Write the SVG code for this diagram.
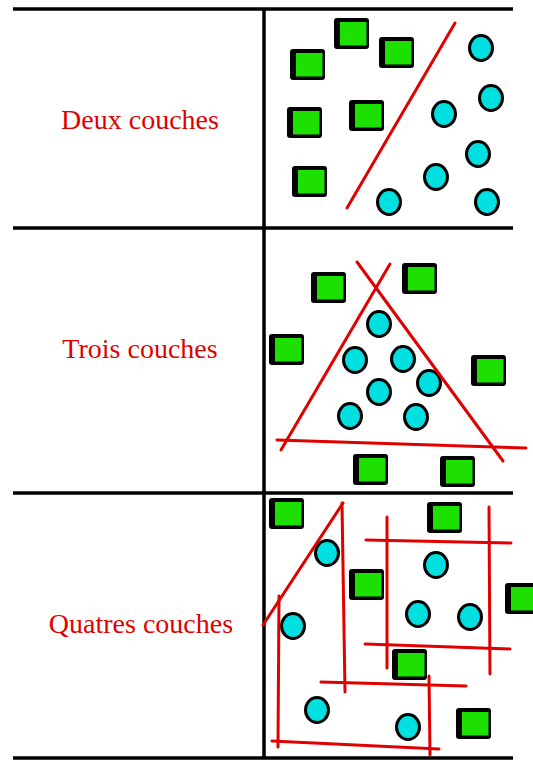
<svg xmlns="http://www.w3.org/2000/svg" xmlns:xlink="http://www.w3.org/1999/xlink" width="533" height="760" viewBox="0 0 533 760">
<style>
.grid{stroke:#000;stroke-width:3.5;fill:none}
.sep{stroke:#e00000;stroke-width:3;stroke-linecap:round;fill:none}
.c{fill:#00e0e0;stroke:#000;stroke-width:3}
.lbl{font-family:"Liberation Serif","Times New Roman",serif;font-size:28px;fill:#e00000;text-anchor:middle}
</style>
<defs>
<g id="sq"><rect x="0" y="0" width="35" height="31" rx="3" fill="#000"/><rect x="6" y="4" width="26.5" height="23.5" fill="#1ee000"/></g>
</defs>
<rect width="533" height="760" fill="#fff"/>
<g id="grid" class="grid">
<line x1="13" y1="9" x2="513" y2="9"/>
<line x1="13" y1="228" x2="513" y2="228"/>
<line x1="13" y1="493" x2="513" y2="493"/>
<line x1="13" y1="758" x2="513" y2="758"/>
<line x1="264" y1="9" x2="264" y2="758"/>
</g>
<g id="labels">
<text class="lbl" x="140" y="129">Deux couches</text>
<text class="lbl" x="140" y="358">Trois couches</text>
<text class="lbl" x="141" y="633">Quatres couches</text>
</g>
<g id="panel1">
<use xlink:href="#sq" x="290" y="49"/>
<use xlink:href="#sq" x="334" y="18"/>
<use xlink:href="#sq" x="379" y="37"/>
<use xlink:href="#sq" x="287" y="107"/>
<use xlink:href="#sq" x="349" y="100"/>
<use xlink:href="#sq" x="292" y="166"/>
<ellipse class="c" cx="481" cy="48" rx="11.5" ry="12.5"/>
<ellipse class="c" cx="491" cy="98" rx="11.5" ry="12.5"/>
<ellipse class="c" cx="444" cy="114" rx="11.5" ry="12.5"/>
<ellipse class="c" cx="478" cy="154" rx="11.5" ry="12.5"/>
<ellipse class="c" cx="436" cy="177" rx="11.5" ry="12.5"/>
<ellipse class="c" cx="389" cy="202" rx="11.5" ry="12.5"/>
<ellipse class="c" cx="487" cy="202" rx="11.5" ry="12.5"/>
</g>
<g id="panel2">
<use xlink:href="#sq" x="311" y="272"/>
<use xlink:href="#sq" x="402" y="263"/>
<use xlink:href="#sq" x="269" y="334"/>
<use xlink:href="#sq" x="471" y="355"/>
<use xlink:href="#sq" x="353" y="454"/>
<use xlink:href="#sq" x="440" y="456"/>
<ellipse class="c" cx="379" cy="324" rx="11.5" ry="12.5"/>
<ellipse class="c" cx="355" cy="360" rx="11.5" ry="12.5"/>
<ellipse class="c" cx="403" cy="359" rx="11.5" ry="12.5"/>
<ellipse class="c" cx="429" cy="383" rx="11.5" ry="12.5"/>
<ellipse class="c" cx="379" cy="392" rx="11.5" ry="12.5"/>
<ellipse class="c" cx="350" cy="416" rx="11.5" ry="12.5"/>
<ellipse class="c" cx="416" cy="417" rx="11.5" ry="12.5"/>
</g>
<g id="panel3">
<use xlink:href="#sq" x="269" y="498"/>
<use xlink:href="#sq" x="427" y="502"/>
<use xlink:href="#sq" x="349" y="569"/>
<use xlink:href="#sq" x="505" y="583"/>
<use xlink:href="#sq" x="392" y="649"/>
<use xlink:href="#sq" x="456" y="708"/>
<ellipse class="c" cx="327" cy="553" rx="11.5" ry="12.5"/>
<ellipse class="c" cx="436" cy="565" rx="11.5" ry="12.5"/>
<ellipse class="c" cx="293" cy="626" rx="11.5" ry="12.5"/>
<ellipse class="c" cx="418" cy="614" rx="11.5" ry="12.5"/>
<ellipse class="c" cx="470" cy="617" rx="11.5" ry="12.5"/>
<ellipse class="c" cx="317" cy="710" rx="11.5" ry="12.5"/>
<ellipse class="c" cx="408" cy="727" rx="11.5" ry="12.5"/>
</g>
<g id="connectors" class="sep">
<line x1="455" y1="23" x2="347" y2="208"/>
<line x1="390" y1="264" x2="281" y2="450"/>
<line x1="357" y1="262" x2="503" y2="461"/>
<line x1="277" y1="440" x2="526" y2="448"/>
<line x1="263" y1="625" x2="343" y2="503"/>
<line x1="342" y1="503" x2="345" y2="692"/>
<line x1="279" y1="596" x2="278" y2="747"/>
<line x1="272" y1="741" x2="439" y2="749"/>
<line x1="321" y1="682" x2="466" y2="686"/>
<line x1="429" y1="676" x2="430" y2="755"/>
<line x1="387" y1="517" x2="387" y2="668"/>
<line x1="366" y1="540" x2="511" y2="543"/>
<line x1="489" y1="507" x2="490" y2="674"/>
<line x1="365" y1="644" x2="510" y2="649"/>
</g>
</svg>
